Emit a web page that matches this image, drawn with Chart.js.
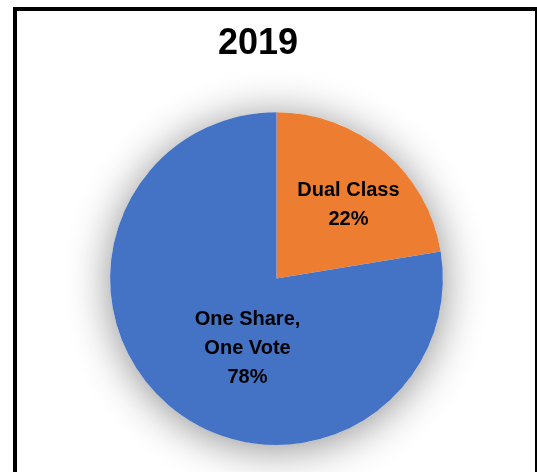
<!DOCTYPE html>
<html>
<head>
<meta charset="utf-8">
<script src="https://cdn.jsdelivr.net/npm/chart.js@4/dist/chart.umd.min.js"></script>
<style>
  body { margin: 0; background: #fff; }
  #wrap { position: absolute; left: 0; top: 0; width: 537px; height: 472px; }
  #frame {
    position: absolute; left: 13px; top: 7px; width: 518px; height: 500px;
    border: 4px solid #000; pointer-events: none;
  }
</style>
</head>
<body>
<div id="wrap"><canvas id="pieChart" width="537" height="472"></canvas></div>
<div id="frame"></div>
<script>
// chart data
var chartTitle = '2019';
var categories = [['Dual Class'], ['One Share,', 'One Vote']];
var shares = [22.4, 77.6];
var sliceColors = ['#ED7D31', '#4472C4'];

var fontFamily = '"Liberation Sans", Arial, sans-serif';

// empty box on the left so the pie sits right of the title's centre
var leftGap = {
  id: 'leftGap',
  beforeInit: function (chart) {
    Chart.layouts.addBox(chart, {
      position: 'left', weight: 0, fullSize: false, options: {},
      left: 0, top: 0, right: 0, bottom: 0, width: 0, height: 0,
      isHorizontal: function () { return false; },
      update: function (maxWidth, maxHeight) { this.width = 37; this.height = maxHeight; },
      draw: function () {}
    });
  }
};

// soft shadow under the whole pie
var pieShadow = {
  id: 'pieShadow',
  beforeDatasetsDraw: function (chart) {
    var arc = chart.getDatasetMeta(0).data[0];
    if (!arc) return;
    var ctx = chart.ctx;
    ctx.save();
    ctx.shadowColor = 'rgba(0,0,0,0.45)';
    ctx.shadowBlur = 44;
    ctx.shadowOffsetY = 4;
    ctx.fillStyle = '#fff';
    ctx.beginPath();
    ctx.arc(arc.x, arc.y, arc.outerRadius, 0, Math.PI * 2);
    ctx.fill();
    ctx.restore();
  }
};

// "best fit" style labels inside the slices
var sliceLabels = {
  id: 'sliceLabels',
  afterDatasetsDraw: function (chart, args, opts) {
    var meta = chart.getDatasetMeta(0);
    var data = chart.data.datasets[0].data;
    var total = data.reduce(function (a, b) { return a + b; }, 0);
    var ctx = chart.ctx;
    ctx.save();
    ctx.font = 'bold 20px ' + fontFamily;
    ctx.fillStyle = '#000';
    ctx.textAlign = 'center';
    ctx.textBaseline = 'middle';
    meta.data.forEach(function (arc, i) {
      var place = opts.place[i];
      var mid = (arc.startAngle + arc.endAngle) / 2 + place.turn * Math.PI / 180;
      var cx = arc.x + Math.cos(mid) * arc.outerRadius * place.dist;
      var cy = arc.y + Math.sin(mid) * arc.outerRadius * place.dist;
      var lines = chart.data.labels[i].concat([Math.round(data[i] / total * 100) + '%']);
      var lh = 29;
      var y0 = cy + 3 - (lines.length - 1) * lh / 2;
      lines.forEach(function (t, k) { ctx.fillText(t, cx, y0 + k * lh); });
    });
    ctx.restore();
  }
};

var ctx = document.getElementById('pieChart').getContext('2d');
var pieChart = new Chart(ctx, {
  type: 'pie',
  data: {
    labels: categories,
    datasets: [{
      data: shares,
      backgroundColor: sliceColors,
      borderWidth: 0,
      hoverOffset: 0
    }]
  },
  plugins: [leftGap, pieShadow, sliceLabels],
  options: {
    responsive: false,
    animation: false,
    events: [],
    layout: { padding: { left: 0, right: 21, top: 0, bottom: 27 } },
    plugins: {
      legend: { display: false },
      tooltip: { enabled: false },
      title: {
        display: true,
        text: chartTitle,
        color: '#000',
        font: { family: fontFamily, size: 36, weight: 'bold', lineHeight: 1.2 },
        padding: { top: 22, bottom: 47 }
      },
      sliceLabels: {
        place: [{ dist: 0.63, turn: 3 }, { dist: 0.44, turn: -17 }]
      }
    }
  }
});
</script>
</body>
</html>
